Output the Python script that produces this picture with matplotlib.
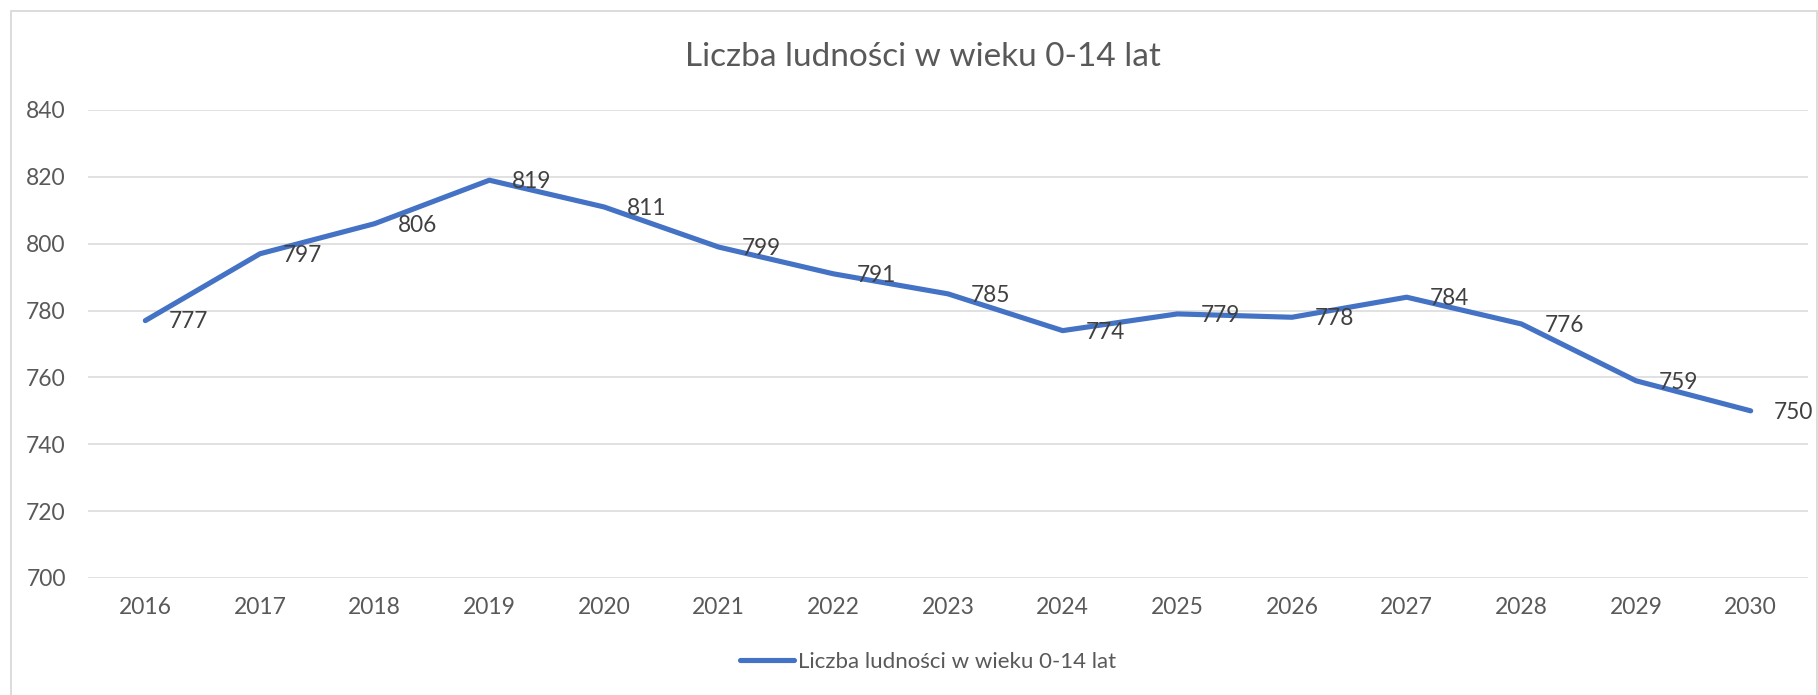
import matplotlib
matplotlib.use("Agg")
import matplotlib.pyplot as plt
from matplotlib.patches import Rectangle

years = ["2016", "2017", "2018", "2019", "2020", "2021", "2022", "2023",
         "2024", "2025", "2026", "2027", "2028", "2029", "2030"]
values = [777, 797, 806, 819, 811, 799, 791, 785, 774, 779, 778, 784, 776, 759, 750]
title = "Liczba ludności w wieku 0-14 lat"
y_ticks = [700, 720, 740, 760, 780, 800, 820, 840]

plt.rcParams['font.family'] = ['Lato', 'DejaVu Sans']

W, H = 1818, 695
fig = plt.figure(figsize=(W / 100, H / 100), dpi=100)
fig.patch.set_facecolor("white")

# outer chart frame
fig.patches.append(Rectangle((11 / W, -0.05), (1817 - 11) / W, 1 - 11 / H + 0.05,
                             transform=fig.transFigure, fill=False,
                             edgecolor="#D9D9D9", linewidth=1.3))

left, right = 88 / W, 1808 / W
bottom, top = (H - 578) / H, (H - 110) / H
ax = fig.add_axes([left, bottom, right - left, top - bottom])

x = list(range(len(years)))
line_color = "#4472C4"
ax.plot(x, values, color=line_color, linewidth=3.7, solid_joinstyle="round",
        solid_capstyle="round", label=title, zorder=3)

for xi, v in zip(x, values):
    ax.annotate(str(v), (xi, v), xytext=(16.5, -1), textcoords="offset points",
                ha="left", va="center", fontsize=16.3, color="#404040", zorder=4)

ax.set_xlim(-0.5, len(years) - 0.5)
ax.set_ylim(700, 840)
ax.set_yticks(y_ticks)
ax.set_yticklabels([str(t) for t in y_ticks])
ax.set_xticks(x)
ax.set_xticklabels(years)
ax.grid(axis="y", color="#D9D9D9", linewidth=1.1, zorder=0)
ax.set_axisbelow(True)
for s in ax.spines.values():
    s.set_visible(False)
ax.tick_params(axis="both", length=0, labelsize=16.5, labelcolor="#595959")
ax.tick_params(axis="y", pad=16)
ax.tick_params(axis="x", pad=14)

fig.text(923 / W, 1 - 57 / H, title, ha="center", va="center", fontsize=24, color="#595959")

leg = fig.legend(loc="center", bbox_to_anchor=(928 / W, 1 - 662 / H), frameon=False,
                 fontsize=16, handlelength=2.45, handletextpad=0.18,
                 labelcolor="#595959")

fig.savefig("out.png", dpi=100, facecolor="white")
